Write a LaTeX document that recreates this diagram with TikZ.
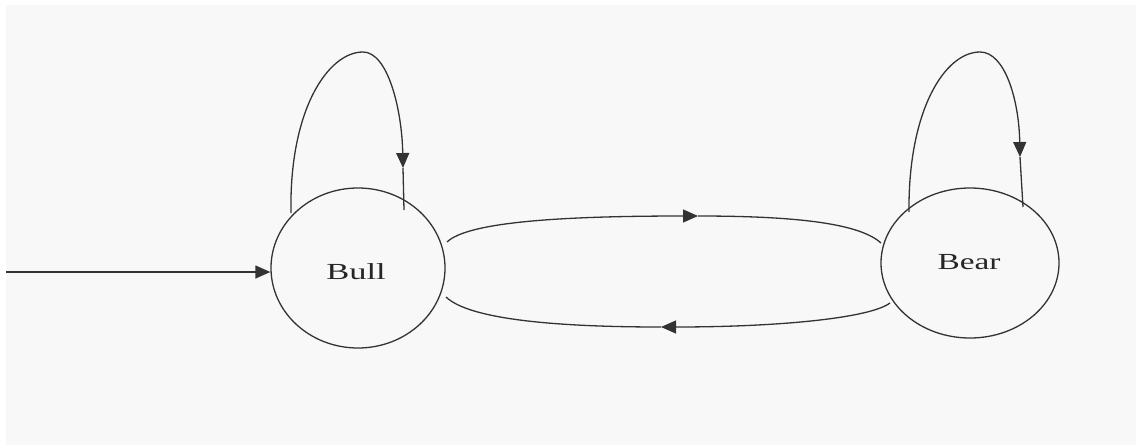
\documentclass[tikz,border=0pt]{standalone}
\usepackage{fontspec}
\setmainfont{Liberation Serif}
\usetikzlibrary{arrows.meta,shapes.geometric}
\definecolor{bg}{HTML}{F8F8F8}
\definecolor{ink}{HTML}{333333}
\tikzset{
  state/.style={ellipse, draw=ink, line width=1.3pt, inner sep=0pt},
  edge/.style={draw=ink, line width=1.3pt},
  tip/.style={-{Triangle[length=15pt,width=13pt]}},
  lbl/.style={font=\fontsize{23}{25}\selectfont, text=black!85}
}
\begin{document}
\begin{tikzpicture}[x=1pt,y=-1pt]
\useasboundingbox (0,0) rectangle (1136,445);
\fill[white] (0,0) rectangle (1136,445);
\fill[bg] (6,5) rectangle (1136,445);

\node[state, minimum width=174pt, minimum height=160pt] (bull) at (358,268) {};
\node[state, minimum width=178pt, minimum height=150pt] (bear) at (970,263) {};
\node[lbl] (bulltxt) at (356,272) {\scalebox{1.5}[1]{Bull}};
\node[lbl] (beartxt) at (969,262) {\scalebox{1.45}[1]{Bear}};

% incoming
\coordinate (in) at (6,272);
\draw[edge, tip] (in) -- (in -| bull.west);

% Bull self loop
\coordinate (bl1) at (291,213);
\coordinate (bltop) at (363,52);
\coordinate (blarr) at (403,168);
\coordinate (bl2) at (404,210);
\draw[edge, tip] (bl1) .. controls (289,110) and (328,52) .. (bltop)
  .. controls (388,52) and (402,110) .. (blarr);
\draw[edge] (blarr) -- (bl2);

% Bear self loop
\coordinate (rl1) at (909,212);
\coordinate (rltop) at (980,52);
\coordinate (rlarr) at (1020,157);
\coordinate (rl2) at (1023,207);
\draw[edge, tip] (rl1) .. controls (908,110) and (945,52) .. (rltop)
  .. controls (1005,52) and (1019,100) .. (rlarr);
\draw[edge] (rlarr) -- (rl2);

% Bull -> Bear (upper)
\coordinate (u1) at (447,242);
\coordinate (uarr) at (698,216);
\coordinate (u2) at (881,243);
\draw[edge, tip] (u1) .. controls (468,222) and (560,216) .. (uarr);
\draw[edge] (uarr) .. controls (800,216) and (860,224) .. (u2);

% Bear -> Bull (lower)
\coordinate (d1) at (890,303);
\coordinate (darr) at (661,327);
\coordinate (d2) at (446,297);
\draw[edge, tip] (d1) .. controls (870,318) and (780,327) .. (darr);
\draw[edge] (darr) .. controls (560,327) and (470,320) .. (d2);
\end{tikzpicture}
\end{document}
